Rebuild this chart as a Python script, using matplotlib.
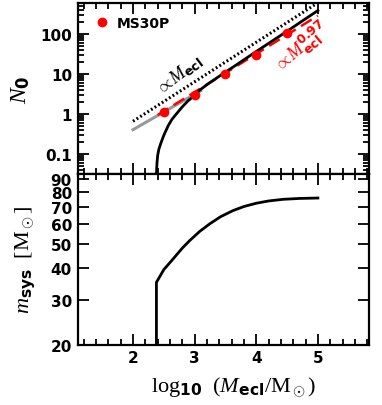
import numpy as np
import matplotlib
matplotlib.use('Agg')
import matplotlib.pyplot as plt
from matplotlib.ticker import FixedLocator, NullFormatter, MultipleLocator, LogLocator

plt.rcParams['mathtext.fontset'] = 'custom'
plt.rcParams['mathtext.rm'] = 'Liberation Serif:normal'
plt.rcParams['mathtext.it'] = 'Liberation Serif:italic:normal'
plt.rcParams['mathtext.bf'] = 'DejaVu Sans:bold'
plt.rcParams['font.family'] = 'DejaVu Sans'

# top panel: N0 vs log10 Mecl
n0_x = [2.38, 2.385, 2.39, 2.40, 2.42, 2.45, 2.50, 2.57, 2.63, 2.70, 2.80, 2.89,
        3.00, 3.08, 3.20, 3.41, 3.68, 4.00, 4.50, 5.00]
n0_y = [0.03, 0.045, 0.06, 0.09, 0.13, 0.18, 0.29, 0.50, 0.72, 0.98, 1.50, 2.10,
        2.90, 3.90, 5.40, 9.00, 17.0, 36.6, 118., 390.]

ms30p_x = [2.5, 3.0, 3.5, 4.0, 4.5]
ms30p_y = [1.1, 2.93, 9.7, 30.0, 106.0]

fit_x = [2.40, 5.00]
fit_y = [0.93, 290.0]

lin_x = [2.0, 4.97]
lin_y = [0.65, 570.0]

gray_x = [2.0, 3.1]
gray_y = [0.40, 3.8]

# bottom panel: m_sys vs log10 Mecl
msys_x = [2.38, 2.38, 2.50, 2.65, 2.80, 2.92, 3.08, 3.24, 3.42, 3.62, 3.80,
          4.00, 4.20, 4.43, 4.70, 5.00]
msys_y = [20.0, 35.2, 39.5, 43.5, 48.0, 51.4, 55.8, 59.7, 63.8, 67.4, 70.0,
          72.1, 73.6, 74.7, 75.3, 75.6]

fig = plt.figure(figsize=(3.82, 4.06), dpi=100)
ax1 = fig.add_axes([0.203, 0.569, 0.763, 0.421])
ax2 = fig.add_axes([0.203, 0.1485, 0.763, 0.4205], sharex=ax1)

# top panel
ax1.plot(gray_x, gray_y, color='#999999', lw=2.2, zorder=1)
ax1.plot(lin_x, lin_y, color='black', lw=2.2, ls=(0, (0.6, 0.8)), zorder=2)
ax1.plot(fit_x, fit_y, color='red', lw=1.8, ls=(0, (5, 2.5)), zorder=2)
ax1.plot(n0_x, n0_y, color='black', lw=2.0, zorder=3)
ax1.plot(ms30p_x, ms30p_y, 'o', color='red', ms=7, mec='none', zorder=4, label='MS30P')

ax1.set_yscale('log')
ax1.set_xlim(1.1, 5.83)
ax1.set_ylim(0.031, 600)
ax1.yaxis.set_major_locator(FixedLocator([0.1, 1, 10, 100]))
ax1.yaxis.set_minor_locator(LogLocator(base=10, subs=np.arange(2, 10)))
ax1.set_yticklabels(['0.1', '1', '10', '100'])
ax1.yaxis.set_minor_formatter(NullFormatter())
ax1.set_ylabel(r'$N_\mathbf{0}$', fontsize=17, labelpad=6)

ax1.text(2.76, 10.0, r'$\propto\! M_\mathbf{ecl}$', fontsize=13, rotation=37,
         ha='center', va='center')
ax1.text(4.75, 48, r'$\propto\! M_\mathbf{ecl}^\mathbf{0.97}$', fontsize=13, rotation=40,
         ha='center', va='center', color='red')

ax1.legend(loc='upper left', frameon=False, handletextpad=0.25, borderaxespad=0.5,
           borderpad=0.4, handlelength=1.7, prop={'weight': 'bold', 'size': 10})

# bottom panel
ax2.plot(msys_x, msys_y, color='black', lw=2.0)
ax2.set_yscale('log')
ax2.set_ylim(20, 94)
ax2.yaxis.set_major_locator(FixedLocator([20, 30, 40, 50, 60, 70, 80, 90]))
ax2.yaxis.set_minor_locator(FixedLocator([]))
ax2.set_yticklabels(['20', '30', '40', '50', '60', '70', '80', '90'])
ax2.yaxis.set_minor_formatter(NullFormatter())
ax2.set_ylabel(r'$m_\mathbf{sys}\ \ [\mathrm{M}_\odot]$', fontsize=16, labelpad=9)
ax2.set_xlabel(r'$\mathrm{log}_\mathbf{10}\ \ (M_\mathbf{ecl}/\mathrm{M}_\odot)$', fontsize=16)
ax2.xaxis.set_label_coords(0.535, -0.17)

ax2.xaxis.set_major_locator(MultipleLocator(1))
ax2.xaxis.set_minor_locator(MultipleLocator(0.2))

for ax in (ax1, ax2):
    ax.tick_params(which='both', direction='in', top=True, right=True, width=1.3)
    ax.tick_params(which='major', length=8, labelsize=11, pad=4)
    ax.tick_params(which='minor', length=4)
    for s in ax.spines.values():
        s.set_linewidth(1.6)
    for lab in ax.get_xticklabels() + ax.get_yticklabels():
        lab.set_fontweight('bold')
plt.setp(ax1.get_xticklabels(), visible=False)

fig.savefig('out.png', dpi=100)
